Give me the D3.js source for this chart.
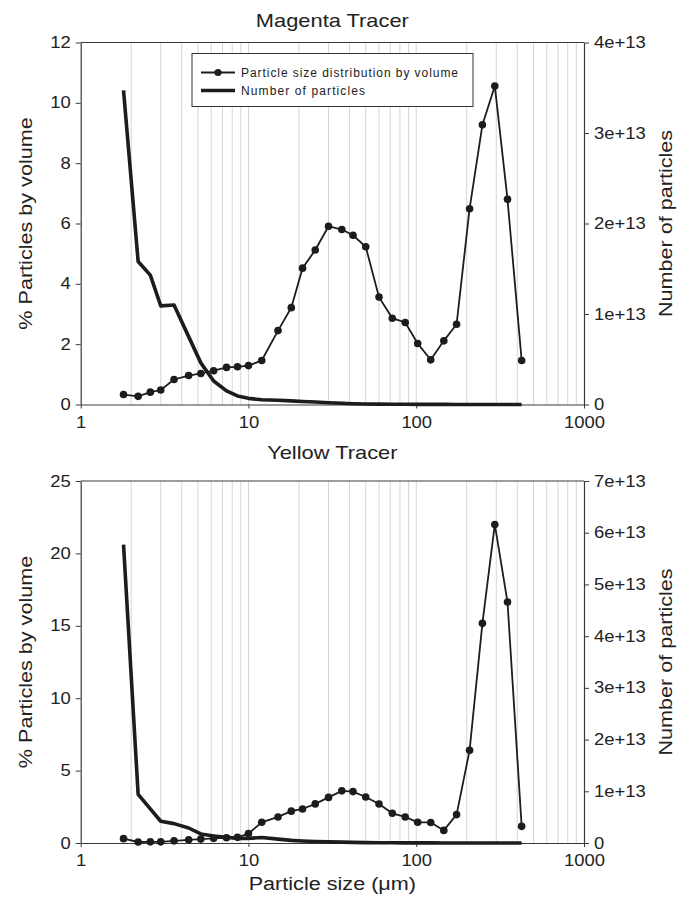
<!DOCTYPE html>
<html><head><meta charset="utf-8">
<script src="https://cdn.jsdelivr.net/npm/d3@7"></script>
<style>
body{margin:0;background:#fff}
svg text{font-family:"Liberation Sans",Arial,Helvetica,sans-serif;fill:#222}
</style>
</head><body>
<svg id="chart" width="692" height="898"></svg>
<script>
// Particle sizes (µm)
const sizes = [1.8, 2.2, 2.6, 3.0, 3.6, 4.4, 5.2, 6.2, 7.4, 8.6, 10, 12, 15, 18, 21, 25, 30, 36, 42, 50, 60, 72, 86, 102, 122, 146, 174, 208, 248, 294, 350, 425];

// Magenta tracer
const magentaVolume = [0.33, 0.27, 0.41, 0.48, 0.83, 0.96, 1.03, 1.12, 1.23, 1.25, 1.29, 1.46, 2.45, 3.21, 4.52, 5.12, 5.91, 5.80, 5.61, 5.23, 3.56, 2.86, 2.72, 2.02, 1.48, 2.11, 2.66, 6.49, 9.27, 10.56, 6.80, 1.46];
const magentaNumber = [3.47e13, 1.58e13, 1.43e13, 1.09e13, 1.10e13, 0.75e13, 0.46e13, 0.26e13, 0.15e13, 0.095e13, 0.068e13, 0.052e13, 0.047e13, 0.04e13, 0.034e13, 0.027e13, 0.02e13, 0.013e13, 0.009e13, 0.006e13, 0.004e13, 0.003e13, 0.002e13, 0.0015e13, 0.001e13, 0.001e13, 0.0005e13, 0.0003e13, 0.0002e13, 0.0001e13, 0.0001e13, 0.0001e13];

// Yellow tracer
const yellowVolume = [0.30, 0.07, 0.08, 0.08, 0.15, 0.22, 0.27, 0.32, 0.36, 0.39, 0.65, 1.43, 1.80, 2.20, 2.35, 2.70, 3.15, 3.60, 3.55, 3.18, 2.69, 2.05, 1.80, 1.43, 1.42, 0.87, 1.96, 6.40, 15.17, 22.0, 16.64, 1.15];
const yellowNumber = [5.77e13, 0.94e13, 0.66e13, 0.42e13, 0.375e13, 0.29e13, 0.175e13, 0.135e13, 0.11e13, 0.09e13, 0.09e13, 0.105e13, 0.075e13, 0.05e13, 0.04e13, 0.03e13, 0.022e13, 0.016e13, 0.012e13, 0.008e13, 0.006e13, 0.004e13, 0.003e13, 0.002e13, 0.0015e13, 0.001e13, 0.0008e13, 0.0005e13, 0.0003e13, 0.0002e13, 0.0001e13, 0.0001e13];

// Ticks and labels
const xTicks = [1, 10, 100, 1000];
const magentaLeftTicks = [0, 2, 4, 6, 8, 10, 12];
const magentaRightTicks = [0, 1e13, 2e13, 3e13, 4e13];
const yellowLeftTicks = [0, 5, 10, 15, 20, 25];
const yellowRightTicks = [0, 1e13, 2e13, 3e13, 4e13, 5e13, 6e13, 7e13];
const titles = ["Magenta Tracer", "Yellow Tracer"];
const legendLabels = ["Particle size distribution by volume", "Number of particles"];
const yLeftTitle = "% Particles by volume";
const yRightTitle = "Number of particles";
const xTitle = "Particle size (\u03bcm)";

const svg = d3.select("#chart");
const X0 = 80.7, X1 = 584;
const x = d3.scaleLog().domain([1, 1000]).range([X0, X1]);
const ink = "#1c1c1c", axisCol = "#3a3a3a", gridCol = "#d6d6d6";

function stretch(sel, f) {
  sel.each(function () {
    const L = this.getComputedTextLength();
    d3.select(this).attr("textLength", L * f).attr("lengthAdjust", "spacingAndGlyphs");
  });
}

function panel(opt) {
  const g = svg.append("g");
  const yL = d3.scaleLinear().domain([0, opt.leftMax]).range([opt.bottom, opt.top]);
  const yR = d3.scaleLinear().domain([0, opt.rightMax]).range([opt.bottom, opt.top]);

  // vertical grid lines at log minor positions
  const grid = x.ticks().filter(v => v > 1 && v < 1000);
  g.append("g").selectAll("line").data(grid).join("line")
    .attr("x1", d => x(d)).attr("x2", d => x(d))
    .attr("y1", opt.top).attr("y2", opt.bottom)
    .attr("stroke", gridCol).attr("stroke-width", 1);

  // top frame line
  g.append("line").attr("x1", X0).attr("x2", X1).attr("y1", opt.top).attr("y2", opt.top)
    .attr("stroke", axisCol).attr("stroke-width", 1);

  // axes
  const ax = g.append("g").attr("transform", `translate(0,${opt.bottom})`)
    .call(d3.axisBottom(x).tickValues(xTicks).tickFormat(d3.format("d")).tickSize(4).tickSizeOuter(0).tickPadding(8));
  const al = g.append("g").attr("transform", `translate(${X0},0)`)
    .call(d3.axisLeft(yL).tickValues(opt.leftTicks).tickSize(5).tickSizeOuter(0).tickPadding(5));
  const ar = g.append("g").attr("transform", `translate(${X1},0)`)
    .call(d3.axisRight(yR).tickValues(opt.rightTicks).tickSize(5).tickSizeOuter(0).tickPadding(5)
      .tickFormat(d => d === 0 ? "0" : d3.format(".0e")(d)));
  [ax, al, ar].forEach(a => {
    a.selectAll("path").attr("stroke", axisCol).attr("stroke-width", 1.2);
    a.selectAll("line").attr("stroke", axisCol);
    a.selectAll("text").attr("font-size", 16).attr("fill", "#222")
      .style("font-family", '"Liberation Sans",Arial,sans-serif');
    stretch(a.selectAll("text"), 1.15);
  });

  // number of particles (thick)
  const numLine = d3.line().x((d, i) => x(sizes[i])).y(d => yR(d));
  g.append("path").datum(opt.number).attr("d", numLine)
    .attr("fill", "none").attr("stroke", ink).attr("stroke-width", 3.6).attr("stroke-linejoin", "round");

  // volume distribution with markers
  const volLine = d3.line().x((d, i) => x(sizes[i])).y(d => yL(d));
  g.append("path").datum(opt.volume).attr("d", volLine)
    .attr("fill", "none").attr("stroke", ink).attr("stroke-width", 1.8);
  g.append("g").selectAll("circle").data(opt.volume).join("circle")
    .attr("cx", (d, i) => x(sizes[i])).attr("cy", d => yL(d)).attr("r", 3.8).attr("fill", ink);

  // title
  const t = g.append("text").attr("x", (X0 + X1) / 2).attr("y", opt.titleY)
    .attr("text-anchor", "middle").attr("font-size", 19).text(opt.title);
  stretch(t, 1.15);

  const mid = (opt.top + opt.bottom) / 2;
  const lt = g.append("text").attr("transform", `translate(31.5,${mid}) rotate(-90)`)
    .attr("text-anchor", "middle").attr("font-size", 18).text(yLeftTitle);
  stretch(lt, 1.2);
  const rt = g.append("text").attr("transform", `translate(672,${mid}) rotate(-90)`)
    .attr("text-anchor", "middle").attr("font-size", 18).text(yRightTitle);
  stretch(rt, 1.2);
  return g;
}

panel({top: 42.5, bottom: 404.5, leftMax: 12, rightMax: 4e13,
  leftTicks: magentaLeftTicks, rightTicks: magentaRightTicks,
  volume: magentaVolume, number: magentaNumber, title: titles[0], titleY: 27});

panel({top: 481, bottom: 843, leftMax: 25, rightMax: 7e13,
  leftTicks: yellowLeftTicks, rightTicks: yellowRightTicks,
  volume: yellowVolume, number: yellowNumber, title: titles[1], titleY: 459});

// x axis title
const xt = svg.append("text").attr("x", (X0 + X1) / 2).attr("y", 890)
  .attr("text-anchor", "middle").attr("font-size", 18).text(xTitle);
stretch(xt, 1.2);

// legend
const lg = svg.append("g");
lg.append("rect").attr("x", 192).attr("y", 53.5).attr("width", 281).attr("height", 53)
  .attr("fill", "#fff").attr("stroke", "#333").attr("stroke-width", 1);
lg.append("line").attr("x1", 201).attr("x2", 235).attr("y1", 72.5).attr("y2", 72.5)
  .attr("stroke", ink).attr("stroke-width", 1.8);
lg.append("circle").attr("cx", 218).attr("cy", 72.5).attr("r", 3.6).attr("fill", ink);
lg.append("line").attr("x1", 201).attr("x2", 235).attr("y1", 90.5).attr("y2", 90.5)
  .attr("stroke", ink).attr("stroke-width", 3.6);
const lt1 = lg.append("text").attr("x", 241).attr("y", 76.8).attr("font-size", 12).text(legendLabels[0]);
const lt2 = lg.append("text").attr("x", 241).attr("y", 94.8).attr("font-size", 12).text(legendLabels[1]);
lt1.attr("textLength", 217).attr("lengthAdjust", "spacing");
lt2.attr("textLength", 124).attr("lengthAdjust", "spacing");
</script>
</body></html>
